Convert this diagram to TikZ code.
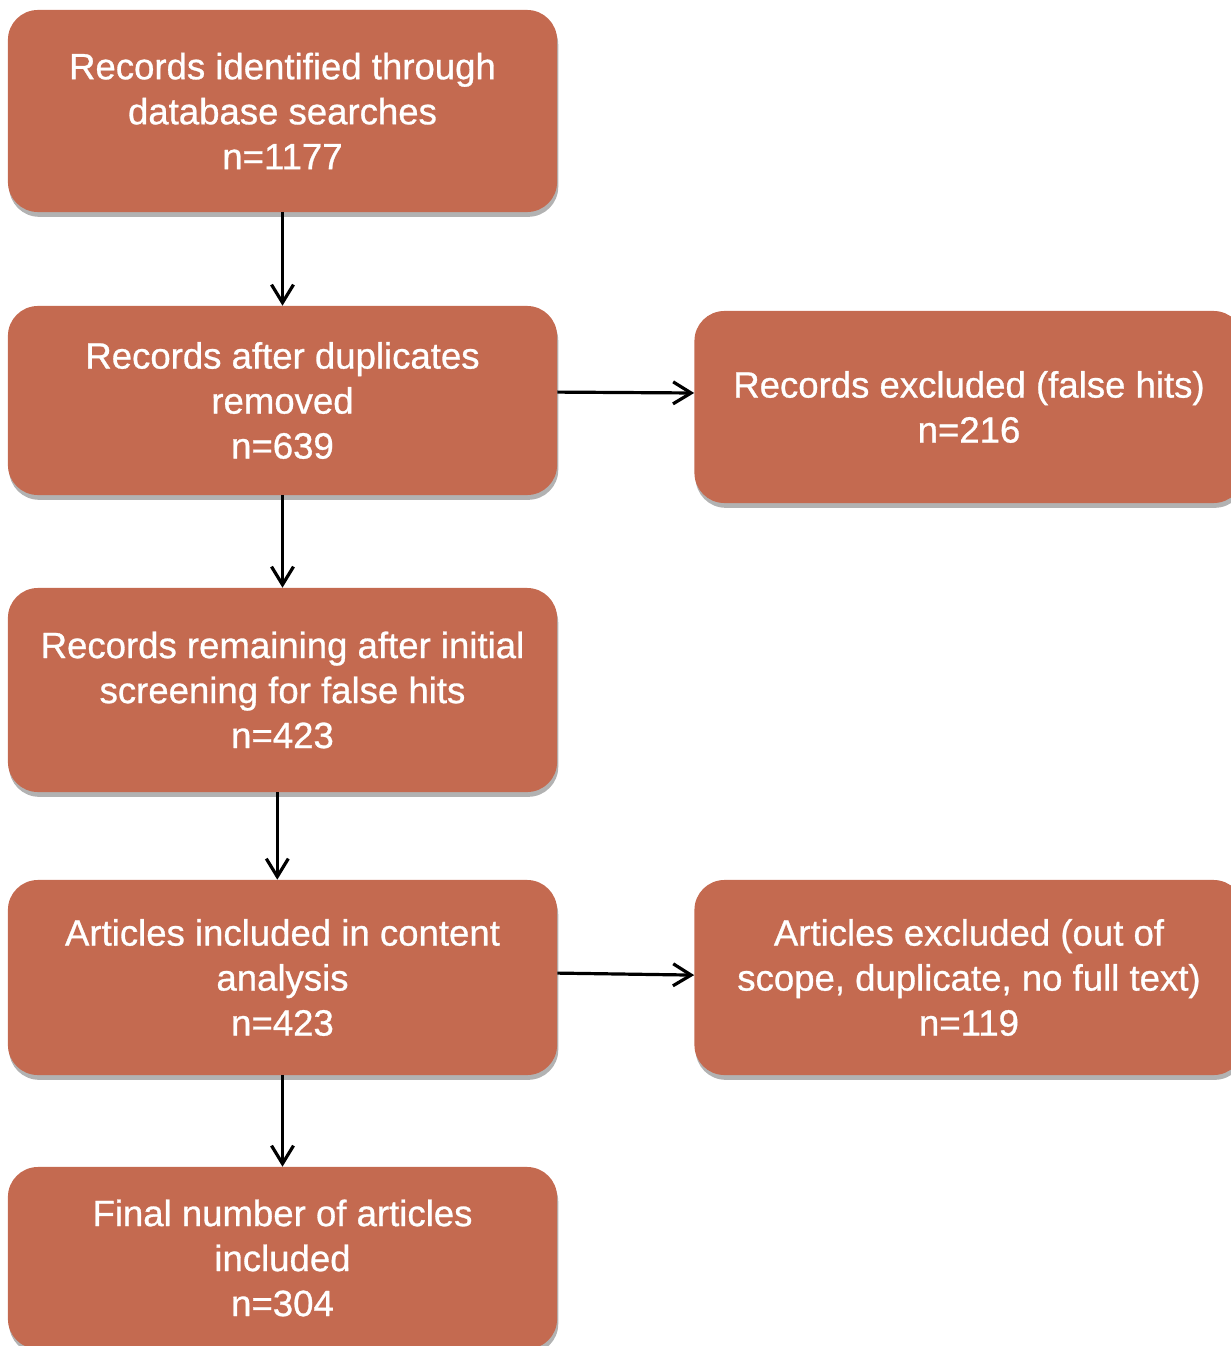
\documentclass[tikz,border=0pt]{standalone}
\usepackage{fontspec}
\setmainfont{Liberation Sans}
\newfontfamily\stagefont{Liberation Sans}[FakeBold=0.8]
\usetikzlibrary{arrows.meta,shadows}
\definecolor{boxfill}{HTML}{C46A50}

\begin{document}
\begin{tikzpicture}[x=0.025cm,y=-0.025cm,
    stage/.style={rectangle, rounded corners=0.75cm, fill=boxfill, text=white, align=center,
        font=\stagefont\fontsize{26}{32}\selectfont, minimum width=13.725cm, inner sep=0pt,
        drop shadow={shadow xshift=0.03cm, shadow yshift=-0.12cm, fill=black, opacity=0.3}},
    flow/.style={-{Straight Barb[length=0.45cm,width=0.55cm]}, line width=0.08cm}]
    \useasboundingbox (0,0) rectangle (1230,1346);

    \node[stage, minimum height=5.05cm] (rec1) at (282.5,111) {Records identified through\\database searches\\n=1177};
    \node[stage, minimum height=4.725cm] (rec2) at (282.5,400.5) {Records after duplicates\\removed\\n=639};
    \node[stage, minimum height=5.1cm] (rec3) at (282.5,690) {Records remaining after initial\\screening for false hits\\n=423};
    \node[stage, minimum height=4.875cm] (art1) at (282.5,977.5) {Articles included in content\\analysis\\n=423};
    \node[stage, minimum height=4.55cm] (art2) at (282.5,1258) {Final number of articles\\included\\n=304};

    \node[stage, minimum height=4.8cm] (excl1) at (969,407) {Records excluded (false hits)\\n=216};
    \node[stage, minimum height=4.875cm] (excl2) at (969,977.5) {Articles excluded (out of\\scope, duplicate, no full text)\\n=119};

    \draw[flow] (rec1) -- (rec2);
    \draw[flow] (rec2) -- (rec3);
    \draw[flow] ([xshift=-0.13cm]rec3.south) -- ([xshift=-0.13cm]art1.north);
    \draw[flow] (art1) -- (art2);

    \draw[flow] ([yshift=0.21cm]rec2.east) -- ([yshift=0.35cm]excl1.west);
    \draw[flow] ([yshift=0.11cm]art1.east) -- ([yshift=0.06cm]excl2.west);

\end{tikzpicture}
\end{document}
